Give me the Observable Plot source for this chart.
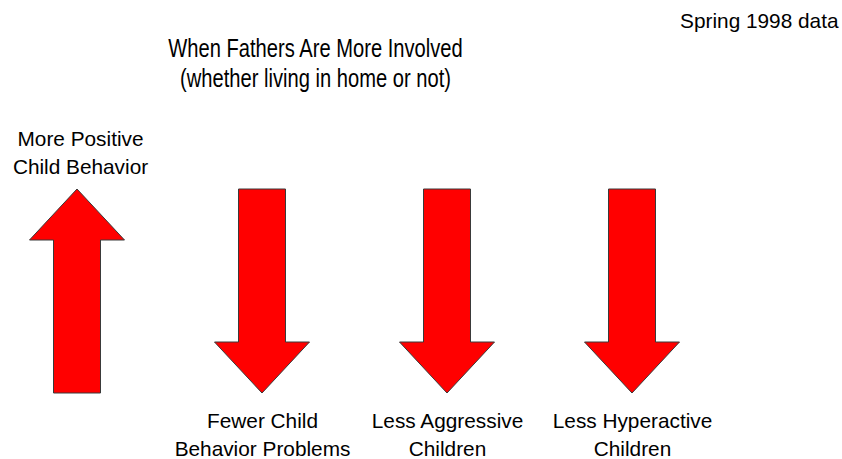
<!DOCTYPE html>
<html>
<head>
<meta charset="utf-8">
<script src="https://cdn.jsdelivr.net/npm/d3@7"></script>
<script src="https://cdn.jsdelivr.net/npm/@observablehq/plot@0.6"></script>
<style>
  html, body { margin: 0; padding: 0; background: #fff; }
  #chart { width: 842px; height: 459px; }
</style>
</head>
<body>
<div id="chart"></div>
<script>
// ---- data ----
const categories = ["Positive behavior", "Behavior problems", "Aggressive", "Hyperactive"];
const change = [1, -1, -1, -1]; // +1 = more / increase, -1 = fewer / decrease
const labels = [
  "More Positive\nChild Behavior",
  "Fewer Child\nBehavior Problems",
  "Less Aggressive\nChildren",
  "Less Hyperactive\nChildren"
];
const titleText = "When Fathers Are More Involved\n(whether living in home or not)";
const noteText = "Spring 1998 data";

const rows = categories.map((c, i) => ({
  category: c,
  change: change[i],
  label: labels[i],
  base: change[i] > 0 ? 0 : 1,
  tip: change[i] > 0 ? 1 : 0
}));

// block arrow mark drawn through the plot's scales
function blockArrows(index, scales) {
  const {x, y} = scales;
  const g = d3.create("svg:g")
    .attr("fill", "#ff0000")
    .attr("stroke", "#3a3a3a")
    .attr("stroke-width", 1);
  const shaft = 23.5, head = 47.5, headLen = 51;
  for (const d of rows) {
    const cx = x(d.category), yb = y(d.base), yt = y(d.tip);
    const s = Math.sign(yt - yb);
    const yh = yt - s * headLen;
    const pts = [
      [cx - shaft, yb], [cx - shaft, yh], [cx - head, yh], [cx, yt],
      [cx + head, yh], [cx + shaft, yh], [cx + shaft, yb]
    ];
    g.append("path").attr("d", "M" + pts.map(p => p.join(",")).join("L") + "Z");
  }
  return g.node();
}

const font = "'Liberation Sans', Arial, Helvetica, sans-serif";

const chart = Plot.plot({
  width: 842,
  height: 459,
  margin: 0,
  style: {background: "#fff", color: "#000", fontFamily: font},
  x: {type: "point", domain: categories, range: [76, 632], padding: 0, axis: null},
  y: {domain: [0, 1], range: [393, 189], axis: null},
  marks: [
    blockArrows,
    Plot.text(rows.filter(d => d.change > 0), {
      x: "category", y: "tip", text: "label",
      lineAnchor: "bottom", dx: 3, dy: -16,
      fontSize: 20.8, lineHeight: 1.3, fill: "#000"
    }),
    Plot.text(rows.filter(d => d.change < 0), {
      x: "category", y: "tip", text: "label",
      lineAnchor: "bottom", dy: 62,
      fontSize: 20.8, lineHeight: 1.3, fill: "#000"
    }),
    Plot.text([titleText], {
      frameAnchor: "top-left", text: d => d,
      lineAnchor: "bottom", textAnchor: "middle",
      dx: 315, dy: 86,
      fontSize: 25.5, lineHeight: 1.14, fill: "#000"
    }),
    Plot.text([noteText], {
      frameAnchor: "top-right", text: d => d,
      lineAnchor: "bottom", textAnchor: "end",
      dx: -4, dy: 27,
      fontSize: 20.8, fill: "#000"
    })
  ]
});
// the title is set in a condensed face in the original: narrow it horizontally
chart.querySelectorAll("text").forEach(t => {
  if (t.textContent.startsWith("When Fathers")) {
    t.setAttribute("transform", ((t.getAttribute("transform") || "") + " scale(0.79,1)").trim());
  }
});
document.getElementById("chart").appendChild(chart);
</script>
</body>
</html>
